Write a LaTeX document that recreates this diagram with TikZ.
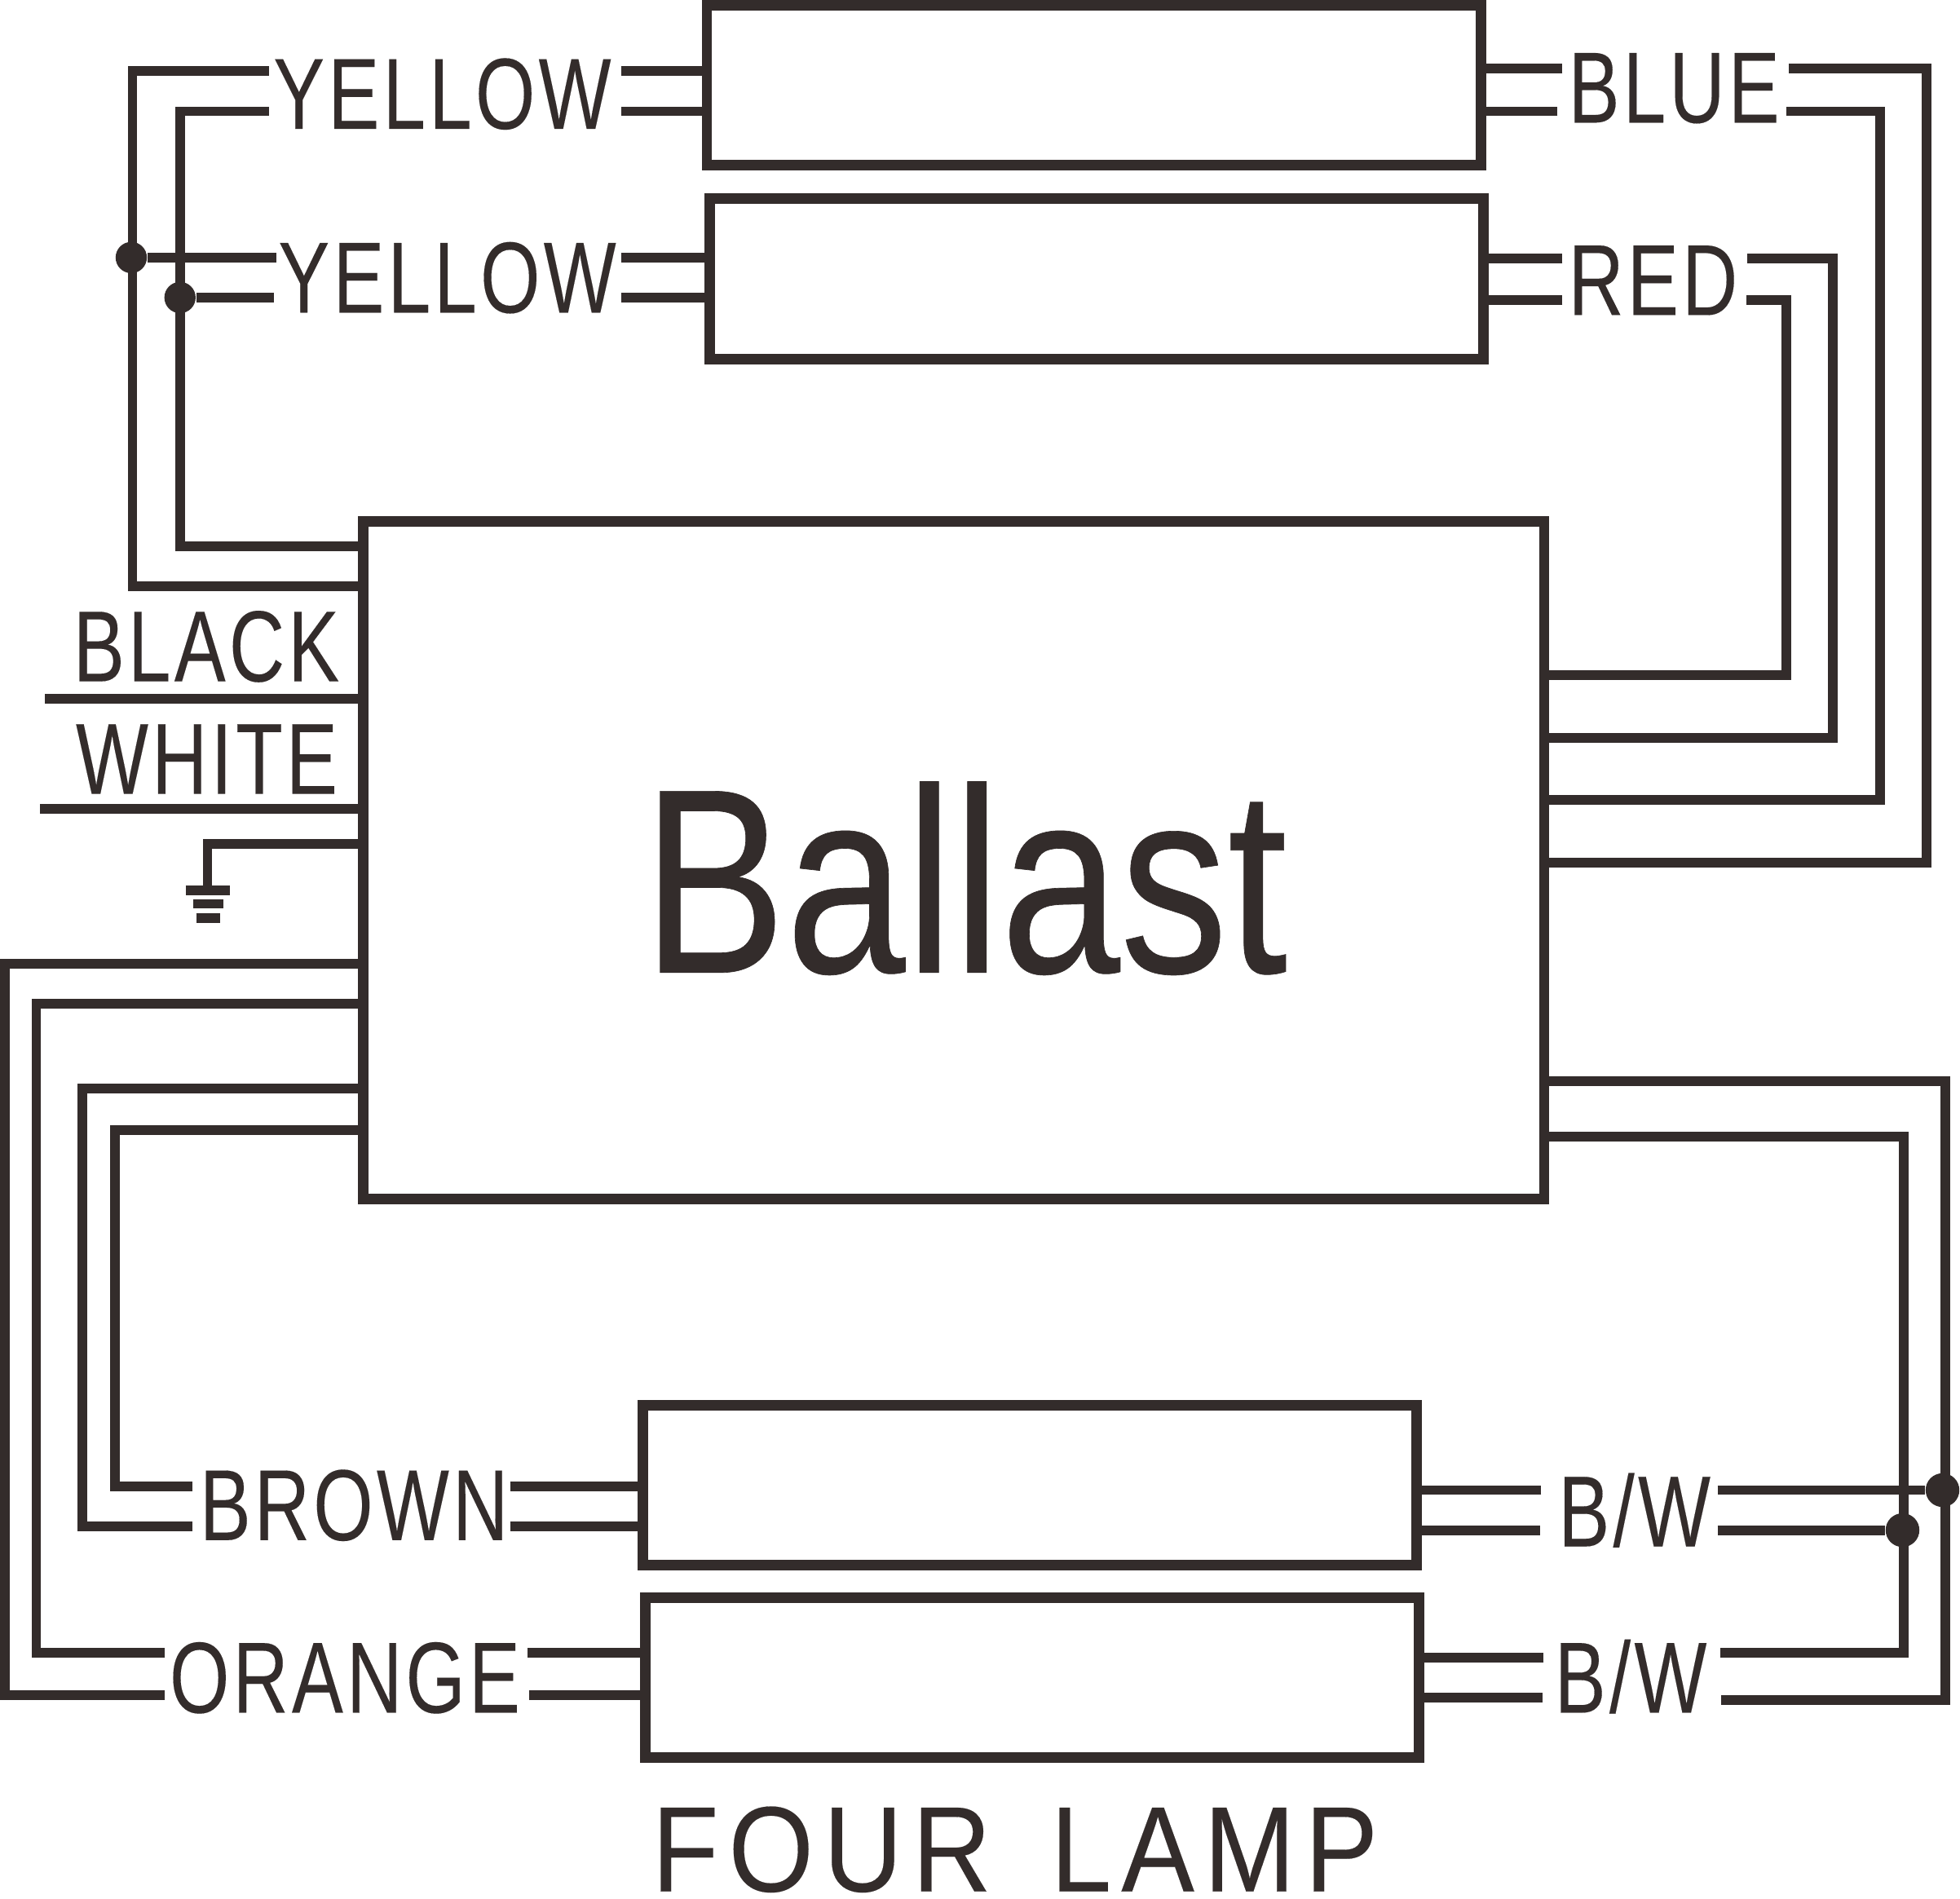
\documentclass[tikz,border=0pt]{standalone}
\usepackage{fontspec}
\usepackage{tikz}
\newfontfamily\labelfont[FakeStretch=.76,LetterSpace=3.5,FakeBold=.12]{Liberation Sans}
\newfontfamily\titlefont[FakeStretch=.9,LetterSpace=8,FakeBold=.12]{Liberation Sans}
\newfontfamily\ballastfont[FakeStretch=.815,FakeBold=.2]{Liberation Sans}
\definecolor{wirecol}{HTML}{332C2B}
\tikzset{
    wire/.style={wirecol, line width=2.2pt},
    lampbox/.style={draw=wirecol, line width=2.4pt, inner sep=0pt, outer sep=0pt, minimum width=6.19cm, minimum height=1.28cm},
    wirelabel/.style={anchor=base west, inner sep=0pt, text=wirecol, font=\labelfont\fontsize{23}{23}\selectfont},
    dot/.style={circle, fill=wirecol, inner sep=0pt, minimum size=2.5mm}
}
\begin{document}
\begin{tikzpicture}[x=0.1mm, y=-0.1mm]
    \useasboundingbox (0, 0) rectangle (1568, 1519);

    \node[lampbox] (lampA) at (875, 68) {};
    \node[lampbox] (lampB) at (877, 223) {};
    \node[lampbox] (lampC) at (824, 1188) {};
    \node[lampbox] (lampD) at (826, 1342) {};
    \node[draw=wirecol, line width=2.3pt, inner sep=0pt, outer sep=0pt, minimum width=9.45cm, minimum height=5.42cm] (ballast) at (763, 688) {};

    \node[anchor=base, inner sep=0pt, text=wirecol, font=\ballastfont\fontsize{60}{60}\selectfont] (ballasttext) at (772, 778) {Ballast};
    \node[wirelabel] (yellowA) at (218, 103) {YELLOW};
    \node[wirelabel] (yellowB) at (222, 250) {YELLOW};
    \node[wirelabel] (blue) at (1254, 98) {BLUE};
    \node[wirelabel] (red) at (1254, 252) {RED};
    \node[wirelabel] (black) at (58, 545) {BLACK};
    \node[wirelabel] (white) at (60, 635) {WHITE};
    \node[wirelabel] (brown) at (159, 1232) {BROWN};
    \node[wirelabel] (orange) at (135, 1370) {ORANGE};
    \node[wirelabel] (bwA) at (1246, 1237) {B/W};
    \node[wirelabel] (bwB) at (1243, 1370) {B/W};
    \node[anchor=base, inner sep=0pt, text=wirecol, font=\titlefont\fontsize{27.7}{27.7}\selectfont] (fourlamp) at (812, 1513) {FOUR\hspace{13.5pt}LAMP};

    \node[dot] (dotA) at (105, 206) {};
    \node[dot] (dotB) at (144, 238) {};
    \node[dot, minimum size=2.7mm] (dotC) at (1554, 1192) {};
    \node[dot, minimum size=2.7mm] (dotD) at (1522, 1224) {};

    \foreach \name/\x/\y in {yaup/497/57, yalo/497/89, ybup/497/206, yblo/497/238,
        blup/1250/55, bllo/1246/89, rdup/1250/207, rdlo/1250/240,
        brup/408/1189, brlo/408/1221, orup/422/1322, orlo/423/1356,
        cup/1233/1192, clo/1232/1224, dup/1235/1326, dlo/1234/1358,
        blackend/36/559, whiteend/32/647}
        \coordinate (\name) at (\x, \y);

    \foreach \from/\lamp in {yaup/lampA.west, yalo/lampA.west, ybup/lampB.west, yblo/lampB.west,
        blup/lampA.east, bllo/lampA.east, rdup/lampB.east, rdlo/lampB.east,
        brup/lampC.west, brlo/lampC.west, orup/lampD.west, orlo/lampD.west,
        cup/lampC.east, clo/lampC.east, dup/lampD.east, dlo/lampD.east,
        blackend/ballast.west, whiteend/ballast.west}
        \draw[wire] (\from) -- (\from -| \lamp);

    \foreach \name/\x/\y/\cx/\cy in {wa/215/57/106/469, wb/215/89/144/437,
        wc/132/1356/4/771, wd/132/1322/29/803, we/154/1221/66/871, wf/154/1189/92/904} {
        \coordinate (\name) at (\x, \y);
        \coordinate (\name corner) at (\cx, \cy);
        \draw[wire] (\name) -| (\name corner) -- (\name corner -| ballast.west);
    }

    \foreach \name/\x/\y/\cx/\cy in {wg/1431/55/1541/690, wh/1429/89/1504/640,
        wi/1398/207/1466/590, wj/1397/240/1429/540,
        wk/1376/1322/1523/909, wl/1377/1360/1556/865} {
        \coordinate (\name) at (\x, \y);
        \coordinate (\name corner) at (\cx, \cy);
        \draw[wire] (\name) -| (\name corner) -- (\name corner -| ballast.east);
    }

    \coordinate (tapA) at (221, 206);
    \coordinate (tapB) at (219, 238);
    \coordinate (tapC) at (1374, 1192);
    \coordinate (tapD) at (1374, 1224);
    \draw[wire] (dotA) -- (tapA);
    \draw[wire] (dotB) -- (tapB);
    \draw[wire] (tapC) -- (dotC);
    \draw[wire] (tapD) -- (dotD);

    \coordinate (ground) at (166, 712);
    \draw[wire] (ballast.west |- 0, 675) -| (ground);
    \draw[wire] (148.6, 712) -- (184, 712);
    \draw[wire] (154.4, 723) -- (178.7, 723);
    \draw[wire] (157, 734.6) -- (176, 734.6);
\end{tikzpicture}
\end{document}
